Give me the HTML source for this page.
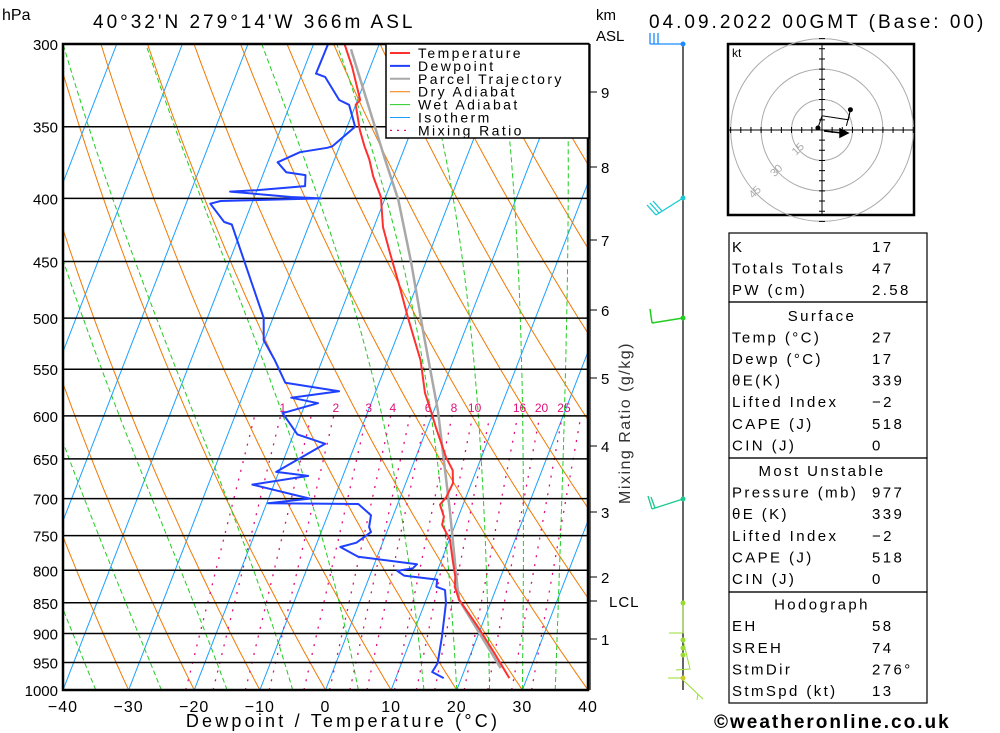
<!DOCTYPE html>
<html><head><meta charset="utf-8"><style>
body{margin:0;background:#fff;}
svg{display:block;font-family:"Liberation Sans",sans-serif;}
</style></head><body>
<svg id="chart" width="1000" height="733" viewBox="0 0 1000 733">
<defs><clipPath id="plotclip"><rect x="63" y="44" width="525" height="646"/></clipPath></defs>
<rect x="0" y="0" width="1000" height="733" fill="#fff"/>
<g id="grid" clip-path="url(#plotclip)"></g>
<g id="isobars"></g>
<g id="series" clip-path="url(#plotclip)"></g>
<rect x="63" y="44" width="525" height="646" fill="none" stroke="#000" stroke-width="2.5"/>
<g id="axes"></g>
<text x="2" y="20" font-size="16">hPa</text>
<text x="93" y="28" font-size="19" letter-spacing="3">40°32'N  279°14'W  366m  ASL</text>
<text x="649" y="28" font-size="19" letter-spacing="3">04.09.2022 00GMT (Base: 00)</text>
<text x="596" y="20" font-size="15">km</text>
<text x="596" y="41" font-size="15">ASL</text>
<text x="343" y="727" font-size="18" text-anchor="middle" letter-spacing="3.2">Dewpoint / Temperature (°C)</text>
<text transform="translate(630,423) rotate(-90)" font-size="16" text-anchor="middle" fill="#333" letter-spacing="1.5">Mixing Ratio (g/kg)</text>
<g id="legend">
<rect x="386" y="44" width="203" height="94" fill="#fff" stroke="#000" stroke-width="1.5"/>
</g>
<g id="wind">
<line x1="683" y1="44" x2="683" y2="690" stroke="#000" stroke-width="1.2"/>
<path d="M683,44 H650 M650,44 V33 M654,44 V33 M658,44 V33" stroke="#1a8cff" stroke-width="1.3" fill="none"/>
<circle cx="683" cy="44" r="2.5" fill="#1a8cff"/>
<path d="M683,198 L656,215 M656,215 L647,205 M659,213 L650,203 M662,211 L653,201" stroke="#1ac8d0" stroke-width="1.3" fill="none"/>
<circle cx="683" cy="198" r="2.5" fill="#1ac8d0"/>
<path d="M683,318 L652,323 M652,323 L650,309" stroke="#22cc22" stroke-width="1.5" fill="none"/>
<circle cx="683" cy="318" r="2.5" fill="#22cc22"/>
<path d="M683,499 L652,509 M652,509 L648,496 M655,508 L651,497" stroke="#1ac890" stroke-width="1.3" fill="none"/>
<circle cx="683" cy="499" r="2.5" fill="#1ac890"/>
<path d="M683,603 V633 H669 M683,640 L690,669 L676,670 M683,678 H668 M683,680 L703,699 M698,694 L697,700" stroke="#99dd33" stroke-width="1" fill="none"/>
<circle cx="683" cy="603" r="2.5" fill="#99dd33"/>
<circle cx="683" cy="640" r="2.5" fill="#99dd33"/>
<circle cx="683" cy="648" r="2.5" fill="#99dd33"/>
<circle cx="683" cy="655" r="2.5" fill="#99dd33"/>
<circle cx="683" cy="678" r="2.5" fill="#cccc22"/>
</g>
<g id="hodo">
<rect x="728" y="44" width="186" height="171" fill="#fff" stroke="#000" stroke-width="2.5"/>
<text x="732" y="57" font-size="12">kt</text>
</g>
<g id="table"></g>
<text x="714" y="728" font-size="19" letter-spacing="2" font-weight="bold">©weatheronline.co.uk</text>
</svg>
<script>
// ---- data ----
const tempP=[300,313,333,336,352,363,372,384,399,422,443,472,500,521,541,575,597,613,648,664,680,698,708,724,735,756,785,810,825,845,889,933,978];
const tempT=[-35.3,-32.8,-29.6,-30.0,-27.9,-26.2,-24.7,-23.1,-20.7,-18.6,-16.0,-12.5,-9.4,-7.1,-5.0,-2.4,-0.2,1.3,4.6,6.4,7.2,7.0,6.5,7.8,8.0,10.1,11.7,13.1,13.6,15.0,19.5,23.5,27.3];
const dewP=[300,317,319,333,336,350,363,364,367,374,381,383,391,394,395,399,400,402,404,418,420,500,521,541,564,573,580,586,597,621,632,666,671,682,700,706,707,722,738,745,760,766,780,791,797,801,808,814,825,830,850,906,951,967,978];
const dewT=[-37.8,-37.9,-36.3,-32.8,-31.0,-28.8,-31.1,-31.8,-35.7,-38.5,-36.6,-33.5,-32.9,-40.1,-44.0,-34.4,-29.7,-44.9,-46.3,-43.1,-41.8,-31.4,-30.1,-27.2,-24.3,-15.6,-22.5,-18.1,-22.9,-19.4,-14.6,-20.4,-15.3,-23.3,-13.7,-19.8,-6.0,-3.4,-3.0,-2.4,-4.0,-6.2,-2.9,6.5,6.1,3.9,5.2,10.5,10.8,12.3,13.2,14.6,15.5,15.2,17.3];
const parcelP=[303,372,401,451,514,594,715,825,845,960];
const parcelT=[-34.0,-22.3,-17.9,-12.2,-6.2,0.6,8.3,14.0,15.0,25.4];
const isobarLevels=[300,350,400,450,500,550,600,650,700,750,800,850,900,950,1000];
const tempTicks=[-40,-30,-20,-10,0,10,20,30,40];
const kmLabels=["9","8","7","6","5","4","3","2","1"];
const kmYs=[92,167,240,310,378,446,512,577,639];
const mixRatios=[0.7,1,1.5,2,3,4,5,6,8,10,12,16,20,25,30];
const mixLabels=[1,2,3,4,6,8,10,16,20,25];
const wetThetas=[-35,-25,-15,-5,5,15,20,25,30,35];
const hodoU=[-2,0,13,14,12];
const hodoV=[1,7,5,10,2];
const tableRows=[["K","17"],["Totals Totals","47"],["PW (cm)","2.58"],["#Surface",""],["Temp (°C)","27"],["Dewp (°C)","17"],["θE(K)","339"],["Lifted Index","−2"],["CAPE (J)","518"],["CIN (J)","0"],["#Most Unstable",""],["Pressure (mb)","977"],["θE (K)","339"],["Lifted Index","−2"],["CAPE (J)","518"],["CIN (J)","0"],["#Hodograph",""],["EH","58"],["SREH","74"],["StmDir","276°"],["StmSpd (kt)","13"]];

// ---- axes ----
const NS='http://www.w3.org/2000/svg';
function yP(p){return 44+Math.log(p/300)/Math.log(1000/300)*646;}
function xT(T,p){return 63+(T+40)*6.5625+(690-yP(p))*0.388;}
function mk(tag,attrs,parent){const e=document.createElementNS(NS,tag);for(const k in attrs)e.setAttribute(k,attrs[k]);parent.appendChild(e);return e;}
function linePath(pts){return pts.map((q,i)=>(i?'L':'M')+q[0].toFixed(1)+','+q[1].toFixed(1)).join(' ');}
const grid=document.getElementById('grid');
for(let T=-130;T<=40;T+=10){
  const el=mk('line',{x1:xT(T,1000),y1:690,x2:xT(T,300),y2:44,stroke:'#1aa0ff','stroke-width':1},grid);
  
  
}
for(let th=-110;th<=200;th+=10){
  const pts=[];
  for(let p=1000;p>=300;p-=10){const T=(th+273.15)*Math.pow(p/1000,0.2857)-273.15;pts.push([xT(T,p),yP(p)]);}
  const el=mk('path',{d:linePath(pts),stroke:'#f07800','stroke-width':1,fill:'none'},grid);
  
  
}
function es(Tc){return 6.112*Math.exp(17.67*Tc/(Tc+243.5));}
for(const tw of wetThetas){
  let T=tw+273.15;const pts=[];
  for(let p=1000;p>=299;p-=5){
    pts.push([xT(T-273.15,p),yP(p)]);
    const e=es(T-273.15),rs=0.622*e/(p-e);
    const g=(287*T+2.5e6*rs)/(1005+(2.5e6*2.5e6*rs*0.622)/(287*T*T));
    T+=g*Math.log((p-5)/p);
  }
  const el=mk('path',{d:linePath(pts),stroke:'#22cc22','stroke-width':1,fill:'none','stroke-dasharray':'5,3'},grid);
  
  
}
function tdFromW(w,p){const e=w*p/(622+w);const l=Math.log(e/6.112);return 243.5*l/(17.67-l);}
for(const w of mixRatios){
  const el=mk('line',{x1:xT(tdFromW(w,1000),1000),y1:690,x2:xT(tdFromW(w,600),600),y2:yP(600),stroke:'#e0107a','stroke-width':1.3,'stroke-dasharray':'2,7'},grid);
  
  
}
for(const w of mixLabels){
  const t=mk('text',{x:xT(tdFromW(w,590),590),y:412,'font-size':12,fill:'#e0107a','text-anchor':'middle'},grid);
  t.textContent=w;
  
  
}
const iso=document.getElementById('isobars'),axes=document.getElementById('axes');
for(const p of isobarLevels){
  const y=yP(p);
  const el=mk('line',{x1:63,y1:y,x2:588,y2:y,stroke:'#000','stroke-width':1.5},iso);
  
  
  const t=mk('text',{x:58,y:y+6,'font-size':15,'text-anchor':'end'},axes);
  t.textContent=p;
  
  
}
for(const T of tempTicks){
  const t=mk('text',{x:63+(T+40)*6.5625,y:712,'font-size':16,'text-anchor':'middle','letter-spacing':1},axes);
  t.textContent=(T<0?'−':'')+Math.abs(T);
  
  
}
{const el=mk('line',{x1:590,y1:44,x2:590,y2:690,stroke:'#000','stroke-width':1.2},axes);

}
kmLabels.forEach((k,i)=>{
  const y=kmYs[i];
  const tk=mk('line',{x1:590,y1:y,x2:597,y2:y,stroke:'#000'},axes);
  
  
  const t=mk('text',{x:601,y:y+6,'font-size':15},axes);
  t.textContent=k;
  
  
});
{const tk=mk('line',{x1:590,y1:601,x2:597,y2:601,stroke:'#000'},axes);


const t=mk('text',{x:609,y:607,'font-size':15,'letter-spacing':1},axes);t.textContent='LCL';

}
const ser=document.getElementById('series');
function drawSeries(P,T,color,w,name){
  const el=mk('path',{d:linePath(P.map((p,i)=>[xT(T[i],p),yP(p)])),stroke:color,'stroke-width':w,fill:'none','stroke-linejoin':'round'},ser);
  
  
}
drawSeries(parcelP,parcelT,'#a8a8a8',2.5,'parcel-trajectory-line');
drawSeries(tempP,tempT,'#ff3030',2,'temperature-line');
drawSeries(dewP,dewT,'#2040ff',2,'dewpoint-line');
const leg=document.getElementById('legend');
const legItems=[['Temperature','#ff3030',2,''],['Dewpoint','#2040ff',2,''],['Parcel Trajectory','#a8a8a8',2,''],['Dry Adiabat','#f07800',1,''],['Wet Adiabat','#22cc22',1,''],['Isotherm','#1aa0ff',1,''],['Mixing Ratio','#e0107a',1.3,'2,5']];
legItems.forEach((it,i)=>{
  const y=53+i*12.9;
  const l=mk('line',{x1:390,y1:y,x2:410,y2:y,stroke:it[1],'stroke-width':it[2]},leg);
  if(it[3])l.setAttribute('stroke-dasharray',it[3]);
  
  
  const t=mk('text',{x:418,y:y+5,'font-size':14,'letter-spacing':2.4},leg);
  t.textContent=it[0];
  
  
});
const hodo=document.getElementById('hodo');const cx=822,cy=130,kt=2.03;
[15,30,45].forEach(r=>{
  const c=mk('circle',{cx:cx,cy:cy,r:r*kt,fill:'none',stroke:'#aaa','stroke-width':1},hodo);
  
  
  const a=Math.PI*0.75,tx=cx+Math.cos(a)*r*kt,ty=cy+Math.sin(a)*r*kt;
  const t=mk('text',{x:tx,y:ty,'font-size':11,fill:'#aaa','text-anchor':'middle',transform:`rotate(-45 ${tx} ${ty})`},hodo);
  t.textContent=r;
  
  
});
{let d=`M729,${cy} H913 M${cx},45 V214`;
for(let k=-45;k<=45;k+=5){if(!k)continue;d+=` M${cx+k*kt},${cy-3} v6 M${cx-3},${cy+k*kt} h6`;}
const a=mk('path',{d:d,stroke:'#000','stroke-width':1,fill:'none'},hodo);

}
{const hl=mk('path',{d:linePath(hodoU.map((u,i)=>[cx+u*kt,cy-hodoV[i]*kt])),stroke:'#000','stroke-width':1,fill:'none'},hodo);


const d1=mk('circle',{cx:cx+hodoU[0]*kt,cy:cy-hodoV[0]*kt,r:2.5},hodo);


const d2=mk('circle',{cx:cx+hodoU[3]*kt,cy:cy-hodoV[3]*kt,r:2.5},hodo);


const sm=mk('path',{d:`M${cx+2},${cy+1} L${cx+20},${cy+3} M${cx+26},${cy+3} l-8,-4 l0,8 z`,stroke:'#000','stroke-width':1.5,fill:'#000'},hodo);

}
const tb=document.getElementById('table');
const boxes=[[233,302],[302,458],[458,592],[592,703]];
boxes.forEach(b=>{const r=mk('rect',{x:729,y:b[0],width:198,height:b[1]-b[0],fill:'none',stroke:'#000','stroke-width':1.2},tb);

});
tableRows.forEach((r,i)=>{
  const y=252+i*21.6+(i>=3?4:0)+(i>=10?4:0)+(i>=16?4:0);
  if(r[0][0]==='#'){
    const t=mk('text',{x:822,y:y,'font-size':15,'text-anchor':'middle','letter-spacing':2.4},tb);
    t.textContent=r[0].slice(1);
    
    
  }else{
    const t=mk('text',{x:732,y:y,'font-size':15,'letter-spacing':2.4},tb);
    t.textContent=r[0];
    
    
    const v=mk('text',{x:872,y:y,'font-size':15,'letter-spacing':2.4},tb);
    v.textContent=r[1];
    
    
  }
});
</script>
</body></html>
